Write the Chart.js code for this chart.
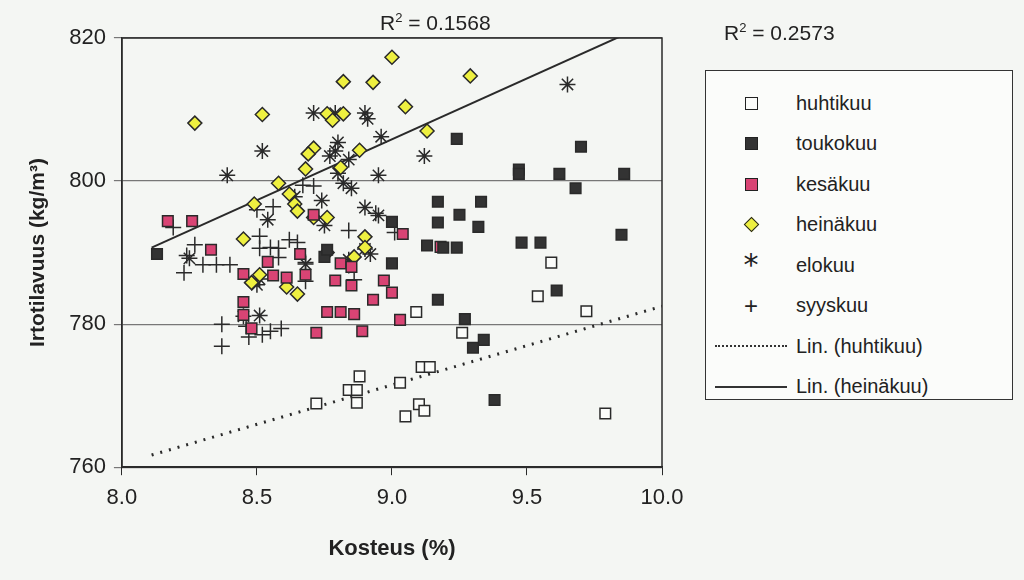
<!DOCTYPE html>
<html>
<head>
<meta charset="utf-8">
<script src="https://cdn.jsdelivr.net/npm/chart.js@4"></script>
<style>
  body { margin: 0; background: #f4f6f3; font-family: "Liberation Sans", Arial, sans-serif; }
  #wrap { position: relative; width: 1024px; height: 580px; }
  .r2 { position: absolute; font-size: 21px; color: #222; }
  #legend { position: absolute; left: 705px; top: 70px; width: 308px; height: 330px;
            border: 1.5px solid #333; background: #fbfcfa; box-sizing: border-box; padding-top: 12px; }
  .item { display: flex; align-items: center; height: 40.5px; font-size: 20px; color: #222; }
  .sym { width: 90px; flex: none; display: flex; justify-content: center; align-items: center; }
  .sq { width: 11px; height: 11px; border: 1.5px solid #222; }
</style>
</head>
<body>
<div id="wrap">
  <canvas id="c" width="1024" height="580"></canvas>
  <div class="r2" style="left:380px; top:10px;">R<sup style="font-size:13px">2</sup> = 0.1568</div>
  <div class="r2" style="left:724px; top:20px;">R<sup style="font-size:13px">2</sup> = 0.2573</div>
  <div id="legend"></div>
</div>
<script>
// [kosteus, irtotilavuus]
const huhtikuu = [[8.72,768.9],[8.84,770.8],[8.87,770.8],[8.88,772.7],[8.87,769],[9.03,771.8],[9.05,767.1],
  [9.10,768.8],[9.12,767.9],[9.11,774],[9.14,774],[9.09,781.7],[9.26,778.8],[9.54,783.9],[9.59,788.6],[9.72,781.8],[9.79,767.5]];
const toukokuu = [[8.13,789.8],[9.24,805.9],[9.70,804.8],[9.47,801.6],[9.47,801],[9.62,801],[9.86,801],[9.68,799],
  [9.17,797.1],[9.33,797.1],[9.00,794.3],[9.17,794.2],[9.25,795.3],[9.32,793.6],[9.85,792.5],[9.48,791.4],[9.55,791.4],
  [8.75,789.4],[8.76,790.4],[9.00,788.5],[9.13,791],[9.19,790.7],[9.24,790.7],[9.27,780.7],[9.34,777.8],[9.30,776.7],
  [9.61,784.7],[9.17,783.4],[9.38,769.4]];
const kesakuu = [[8.17,794.4],[8.26,794.4],[8.33,790.4],[8.45,787],[8.45,783.1],[8.45,781.3],[8.48,779.4],[8.54,788.7],
  [8.56,786.8],[8.61,786.5],[8.66,789.8],[8.68,786.9],[8.71,795.3],[8.72,778.8],[8.76,781.7],[8.81,788.5],[8.79,786.1],
  [8.81,781.7],[8.85,785.4],[8.86,781.4],[8.89,779],[8.93,783.4],[8.97,786.1],[9.00,784.4],[9.03,780.6],[9.04,792.6],
  [9.18,790.8],[8.85,788]];
const heinakuu = [[8.27,808.1],[8.52,809.3],[9.00,817.3],[8.93,813.8],[9.29,814.7],[8.82,813.9],[8.76,809.4],[8.78,808.5],
  [8.82,809.4],[8.71,804.6],[8.69,803.8],[8.68,801.7],[8.88,804.3],[8.81,801.9],[9.05,810.4],[9.13,807],[8.58,799.7],
  [8.49,796.8],[8.62,798.2],[8.64,796.8],[8.65,795.8],[8.71,794.9],[8.45,791.9],[8.90,792.2],[8.86,789.4],[8.51,786.9],
  [8.61,785.2],[8.65,784.2],[8.76,790],[8.90,790.7],[8.48,785.8],[8.76,794.9]];
const elokuu = [[8.39,800.8],[8.52,804.2],[8.71,809.5],[8.79,809.5],[8.90,809.5],[8.91,808.7],[8.96,806.2],[8.80,805.4],
  [8.79,804.2],[8.77,803.5],[8.82,799.7],[8.85,799],[8.80,801.1],[8.84,803],[8.95,800.8],[9.12,803.5],[8.90,796.3],
  [8.95,795.2],[8.74,797.3],[8.64,797.8],[8.75,793.8],[8.68,788.4],[8.90,790.5],[8.92,789.8],[8.54,794.6],[8.51,786.3],
  [8.50,785.5],[8.51,781.2],[8.25,789.2],[8.84,789],[8.45,781.1],[9.65,813.5]];
const syyskuu = [[8.19,793.5],[8.27,791.1],[8.24,789.6],[8.30,788.3],[8.35,788.3],[8.40,788.3],[8.23,787.2],[8.50,796],
  [8.56,796.4],[8.51,792.3],[8.51,790.6],[8.55,790.7],[8.58,789.3],[8.62,791.8],[8.65,791.4],[8.68,786],[8.59,779.4],
  [8.55,779],[8.52,778.5],[8.37,780],[8.37,776.9],[8.46,779.7],[8.47,778.2],[8.67,799.4],[8.71,799.3],[8.84,793.1],
  [8.84,788.2],[8.86,786.2],[8.94,795.5],[9.01,792.8],[8.58,790.6],[8.68,788.6]];
const linHuhtikuu = [[8.11,761.7],[10.0,782.5]];
const linHeinakuu = [[8.11,790.7],[9.85,820.3]];
const xTicks = [8.0, 8.5, 9.0, 9.5, 10.0];
const yTicks = [760, 780, 800, 820];

const toXY = arr => arr.map(p => ({ x: p[0], y: p[1] }));
const ink = '#2a2a2a';

function pts(label, data, style, fill, radius) {
  return { label, data: toXY(data), pointStyle: style, pointRadius: radius, pointBackgroundColor: fill,
    pointBorderColor: ink, pointBorderWidth: 1.5, showLine: false };
}

const boxPlugin = {
  id: 'box',
  afterDraw(chart) {
    const a = chart.chartArea, ctx = chart.ctx;
    ctx.save(); ctx.strokeStyle = ink; ctx.lineWidth = 1.5;
    ctx.strokeRect(a.left, a.top, a.right - a.left, a.bottom - a.top); ctx.restore();
  }
};

new Chart(document.getElementById('c'), {
  type: 'scatter',
  data: { datasets: [
    { label: 'Lin. (huhtikuu)', data: toXY(linHuhtikuu), showLine: true, borderColor: ink, borderWidth: 3,
      borderDash: [2, 7], pointRadius: 0, order: 10 },
    { label: 'Lin. (heinäkuu)', data: toXY(linHeinakuu), showLine: true, borderColor: ink, borderWidth: 2,
      pointRadius: 0, order: 10 },
    pts('huhtikuu', huhtikuu, 'rect', '#fbfcfa', 7.5),
    pts('toukokuu', toukokuu, 'rect', '#333333', 7.5),
    pts('kesäkuu', kesakuu, 'rect', '#d94474', 7.5),
    pts('heinäkuu', heinakuu, 'rectRot', '#eef040', 7),
    pts('elokuu', elokuu, 'star', '#333', 8),
    pts('syyskuu', syyskuu, 'cross', '#333', 8)
  ]},
  options: {
    responsive: false, animation: false,
    layout: { padding: { top: 38, right: 362, left: 22, bottom: 14 } },
    plugins: { legend: { display: false }, tooltip: { enabled: false } },
    scales: {
      x: { type: 'linear', min: 8, max: 10,
        afterBuildTicks: s => { s.ticks = xTicks.map(v => ({ value: v })); },
        ticks: { color: '#222', font: { size: 22, family: 'Liberation Sans' }, callback: v => v.toFixed(1), padding: 10 },
        grid: { drawOnChartArea: false, color: ink, tickLength: 8 }, border: { color: ink, width: 1.5 },
        title: { display: true, text: 'Kosteus (%)', color: '#222', font: { size: 22, weight: 'bold', family: 'Liberation Sans' }, padding: { top: 14 } } },
      y: { min: 760, max: 820,
        afterBuildTicks: s => { s.ticks = yTicks.map(v => ({ value: v })); },
        ticks: { color: '#222', font: { size: 22, family: 'Liberation Sans' }, padding: 8 },
        grid: { color: '#777', tickLength: 8, lineWidth: 1.2 }, border: { color: ink, width: 1.5 },
        title: { display: true, text: 'Irtotilavuus (kg/m³)', color: '#222', font: { size: 21, weight: 'bold', family: 'Liberation Sans' }, padding: { bottom: 10 } } }
    }
  },
  plugins: [boxPlugin]
});

const legendItems = [
  ['huhtikuu', '<div class="sq" style="background:#fbfcfa"></div>'],
  ['toukokuu', '<div class="sq" style="background:#333"></div>'],
  ['kesäkuu', '<div class="sq" style="background:#d94474"></div>'],
  ['heinäkuu', '<div class="sq" style="background:#eef040;transform:rotate(45deg);width:9px;height:9px"></div>'],
  ['elokuu', '<span style="font-size:30px;line-height:20px;color:#222;font-family:\'DejaVu Sans\'">*</span>'],
  ['syyskuu', '<span style="font-size:24px">+</span>'],
  ['Lin. (huhtikuu)', '<div style="width:72px;border-top:2.5px dotted #333"></div>'],
  ['Lin. (heinäkuu)', '<div style="width:72px;border-top:2px solid #333"></div>']
];
document.getElementById('legend').innerHTML = legendItems.map(([t, s]) =>
  `<div class="item"><div class="sym">${s}</div><span>${t}</span></div>`).join('');
</script>
</body>
</html>
